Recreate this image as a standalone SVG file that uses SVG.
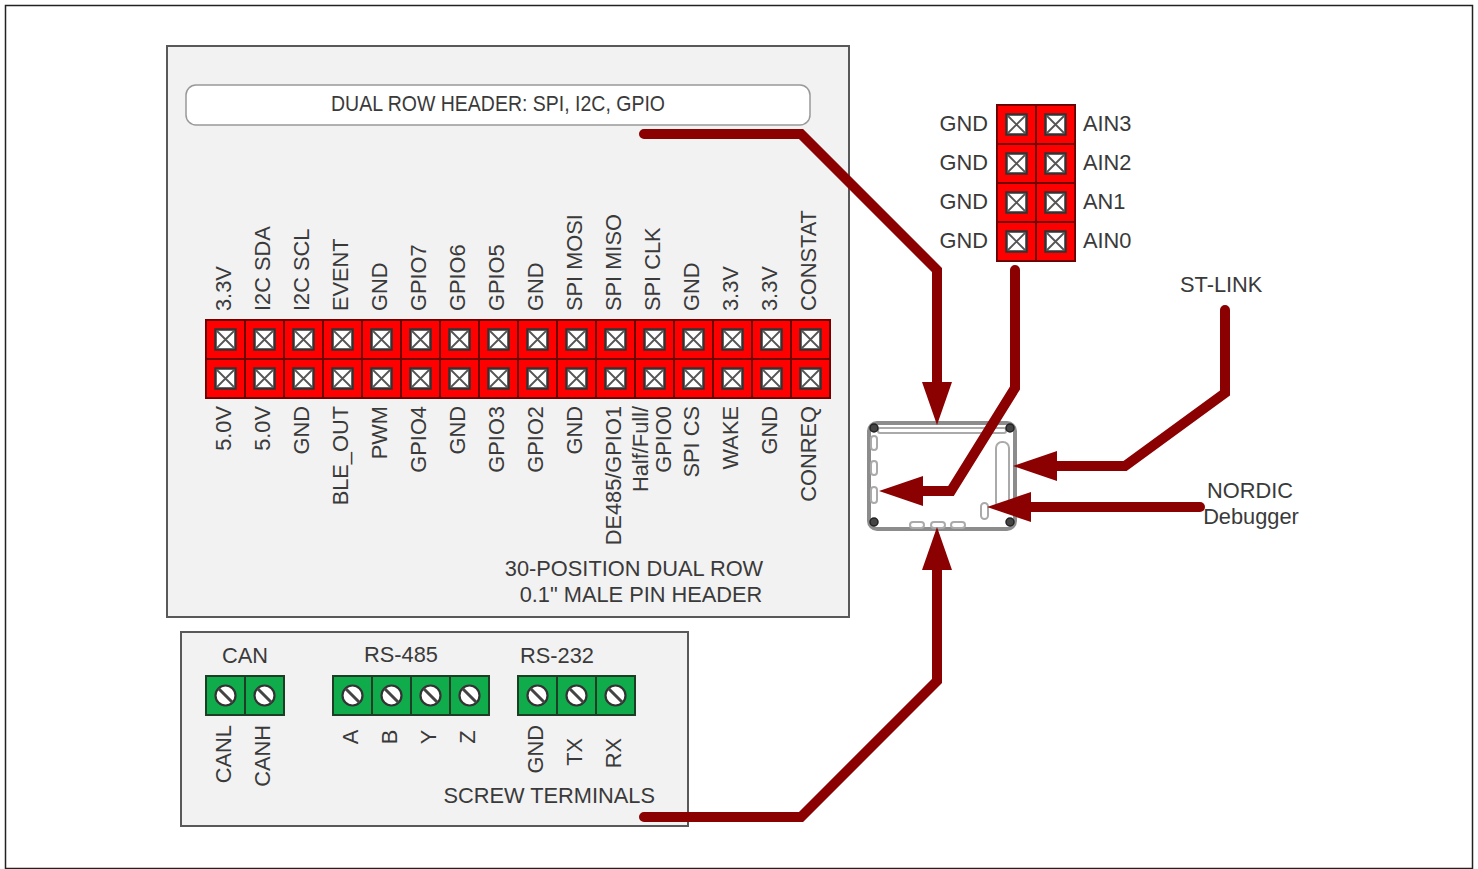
<svg xmlns="http://www.w3.org/2000/svg" width="1478" height="869" viewBox="0 0 1478 869">
<style>
text{font-family:"Liberation Sans",Arial,sans-serif;font-size:21.8px;fill:#3a3a3a;}
.m{text-anchor:middle}.e{text-anchor:end}
.panel{fill:#f2f2f2;stroke:#595959;stroke-width:2}
.wire{fill:none;stroke:#8b0000;stroke-width:10;stroke-linecap:round;stroke-linejoin:miter}
.head{fill:#8b0000}
.cell{fill:#fe0000;stroke:#700000;stroke-width:2}
.gcell{fill:#10ac4c;stroke:#1d3d25;stroke-width:2}
.dev{fill:#fff;stroke:#aaa;stroke-width:2}
</style>
<defs>
<g id="pin">
<rect class="cell" x="-19.500" y="-19.500" width="39" height="39"/>
<rect x="-10" y="-10" width="20" height="20" fill="#fff" stroke="#333" stroke-width="2.500"/>
<path d="M-9-9L9 9M9-9L-9 9" stroke="#555" stroke-width="1.800"/>
</g>
<g id="screw">
<rect class="gcell" x="-19.500" y="-19.500" width="39" height="39"/>
<circle r="10" fill="#fff" stroke="#333" stroke-width="2.200"/>
<path d="M-7-7L7 7" stroke="#444" stroke-width="3"/>
</g>
<circle id="bolt" r="4" fill="#444" stroke="#222" stroke-width="1.500"/>
</defs>
<rect x="5.500" y="5.500" width="1467" height="863" fill="#fff" stroke="#222" stroke-width="1.500"/>

<g id="main-panel">
<rect class="panel" x="167" y="46" width="682" height="571"/>
</g>
<g id="dual-row-title">
<rect x="186" y="85" width="624" height="40" rx="10" fill="#fff" stroke="#999" stroke-width="1.500"/>
<text class="m" x="498" y="111" textLength="334" lengthAdjust="spacingAndGlyphs">DUAL ROW HEADER: SPI, I2C, GPIO</text>
</g>
<g id="pin-header">
<use href="#pin" x="225.500" y="339.500"/><use href="#pin" x="264.500" y="339.500"/><use href="#pin" x="303.500" y="339.500"/><use href="#pin" x="342.500" y="339.500"/><use href="#pin" x="381.500" y="339.500"/><use href="#pin" x="420.500" y="339.500"/><use href="#pin" x="459.500" y="339.500"/><use href="#pin" x="498.500" y="339.500"/><use href="#pin" x="537.500" y="339.500"/><use href="#pin" x="576.500" y="339.500"/><use href="#pin" x="615.500" y="339.500"/><use href="#pin" x="654.500" y="339.500"/><use href="#pin" x="693.500" y="339.500"/><use href="#pin" x="732.500" y="339.500"/><use href="#pin" x="771.500" y="339.500"/><use href="#pin" x="810.500" y="339.500"/>
<use href="#pin" x="225.500" y="378.500"/><use href="#pin" x="264.500" y="378.500"/><use href="#pin" x="303.500" y="378.500"/><use href="#pin" x="342.500" y="378.500"/><use href="#pin" x="381.500" y="378.500"/><use href="#pin" x="420.500" y="378.500"/><use href="#pin" x="459.500" y="378.500"/><use href="#pin" x="498.500" y="378.500"/><use href="#pin" x="537.500" y="378.500"/><use href="#pin" x="576.500" y="378.500"/><use href="#pin" x="615.500" y="378.500"/><use href="#pin" x="654.500" y="378.500"/><use href="#pin" x="693.500" y="378.500"/><use href="#pin" x="732.500" y="378.500"/><use href="#pin" x="771.500" y="378.500"/><use href="#pin" x="810.500" y="378.500"/>
<g id="top-labels">
<text transform="translate(231,311) rotate(-90)">3.3V</text>
<text transform="translate(270,311) rotate(-90)">I2C SDA</text>
<text transform="translate(309,311) rotate(-90)">I2C SCL</text>
<text transform="translate(348,311) rotate(-90)">EVENT</text>
<text transform="translate(387,311) rotate(-90)">GND</text>
<text transform="translate(426,311) rotate(-90)">GPIO7</text>
<text transform="translate(465,311) rotate(-90)">GPIO6</text>
<text transform="translate(504,311) rotate(-90)">GPIO5</text>
<text transform="translate(543,311) rotate(-90)">GND</text>
<text transform="translate(582,311) rotate(-90)">SPI MOSI</text>
<text transform="translate(621,311) rotate(-90)">SPI MISO</text>
<text transform="translate(660,311) rotate(-90)">SPI CLK</text>
<text transform="translate(699,311) rotate(-90)">GND</text>
<text transform="translate(738,311) rotate(-90)">3.3V</text>
<text transform="translate(777,311) rotate(-90)">3.3V</text>
<text transform="translate(816,311) rotate(-90)">CONSTAT</text>
</g>
<g id="bottom-labels">
<text class="e" transform="translate(231,406) rotate(-90)">5.0V</text>
<text class="e" transform="translate(270,406) rotate(-90)">5.0V</text>
<text class="e" transform="translate(309,406) rotate(-90)">GND</text>
<text class="e" transform="translate(348,406) rotate(-90)">BLE_OUT</text>
<text class="e" transform="translate(387,406) rotate(-90)">PWM</text>
<text class="e" transform="translate(426,406) rotate(-90)">GPIO4</text>
<text class="e" transform="translate(465,406) rotate(-90)">GND</text>
<text class="e" transform="translate(504,406) rotate(-90)">GPIO3</text>
<text class="e" transform="translate(543,406) rotate(-90)">GPIO2</text>
<text class="e" transform="translate(582,406) rotate(-90)">GND</text>
<text class="e" transform="translate(621,406) rotate(-90)">DE485/GPIO1</text>
<text class="e" transform="translate(648,406) rotate(-90)">Half/Full/</text>
<text class="e" transform="translate(671,406) rotate(-90)">GPIO0</text>
<text class="e" transform="translate(699,406) rotate(-90)">SPI CS</text>
<text class="e" transform="translate(738,406) rotate(-90)">WAKE</text>
<text class="e" transform="translate(777,406) rotate(-90)">GND</text>
<text class="e" transform="translate(816,406) rotate(-90)">CONREQ</text>
</g>
</g>
<g id="pin-header-caption">
<text class="m" x="634" y="576">30-POSITION DUAL ROW</text>
<text class="m" x="641" y="602">0.1" MALE PIN HEADER</text>
</g>

<g id="screw-panel">
<rect class="panel" x="181" y="632" width="507" height="194"/>
<text class="e" x="655" y="803">SCREW TERMINALS</text>
</g>
<g id="can">
<text class="m" x="245" y="663">CAN</text>
<use href="#screw" x="225.500" y="695.500"/><use href="#screw" x="264.500" y="695.500"/>
<text class="e" transform="translate(231,725) rotate(-90)">CANL</text>
<text class="e" transform="translate(270,725) rotate(-90)">CANH</text>
</g>
<g id="rs485">
<text class="m" x="401" y="662">RS-485</text>
<use href="#screw" x="352.500" y="695.500"/><use href="#screw" x="391.500" y="695.500"/><use href="#screw" x="430.500" y="695.500"/><use href="#screw" x="469.500" y="695.500"/>
<text class="m" transform="translate(358,737) rotate(-90)">A</text>
<text class="m" transform="translate(397,737) rotate(-90)">B</text>
<text class="m" transform="translate(436,737) rotate(-90)">Y</text>
<text class="m" transform="translate(475,737) rotate(-90)">Z</text>
</g>
<g id="rs232">
<text class="m" x="557" y="663">RS-232</text>
<use href="#screw" x="537.500" y="695.500"/><use href="#screw" x="576.500" y="695.500"/><use href="#screw" x="615.500" y="695.500"/>
<text class="e" transform="translate(543,725) rotate(-90)">GND</text>
<text class="e" transform="translate(582,738) rotate(-90)">TX</text>
<text class="e" transform="translate(621,738) rotate(-90)">RX</text>
</g>

<g id="analog-header">
<use href="#pin" x="1016.500" y="124.500"/><use href="#pin" x="1055.500" y="124.500"/>
<use href="#pin" x="1016.500" y="163.500"/><use href="#pin" x="1055.500" y="163.500"/>
<use href="#pin" x="1016.500" y="202.500"/><use href="#pin" x="1055.500" y="202.500"/>
<use href="#pin" x="1016.500" y="241.500"/><use href="#pin" x="1055.500" y="241.500"/>
<text class="e" x="988" y="131">GND</text><text class="e" x="988" y="170">GND</text><text class="e" x="988" y="209">GND</text><text class="e" x="988" y="248">GND</text>
<text x="1083" y="131">AIN3</text><text x="1083" y="170">AIN2</text><text x="1083" y="209">AN1</text><text x="1083" y="248">AIN0</text>
</g>

<g id="device">
<rect x="869" y="423" width="146" height="106" rx="8" fill="#fff" stroke="#8c8c8c" stroke-width="4"/>
<rect x="878" y="428" width="128" height="5" rx="2" class="dev" stroke-width="1.500"/>
<rect x="871" y="436" width="6" height="14" rx="3" class="dev"/>
<rect x="871" y="461" width="6" height="14" rx="3" class="dev"/>
<rect x="871" y="487" width="6" height="16" rx="3" class="dev"/>
<rect x="996" y="442" width="13" height="66" rx="6" class="dev"/>
<rect x="981" y="503" width="7" height="16" rx="3.500" class="dev"/>
<rect x="910" y="522" width="14" height="6" rx="3" class="dev"/>
<rect x="931" y="522" width="14" height="6" rx="3" class="dev"/>
<rect x="951" y="522" width="14" height="6" rx="3" class="dev"/>
<use href="#bolt" x="874" y="428"/><use href="#bolt" x="1010" y="428"/><use href="#bolt" x="874" y="522"/><use href="#bolt" x="1010" y="522"/>
</g>

<g id="st-link-label"><text x="1180" y="292">ST-LINK</text></g>
<g id="nordic-label">
<text class="m" x="1250" y="498">NORDIC</text>
<text class="m" x="1251" y="524">Debugger</text>
</g>

<g id="connectors">
<path class="wire" d="M644 134H801L937 270V390"/>
<polygon class="head" points="922,382 952,382 937,425"/>
<path class="wire" d="M1015 270V388L951 491H915"/>
<polygon class="head" points="923,476 923,506 879,491"/>
<path class="wire" d="M1225 310V393L1125 466H1050"/>
<polygon class="head" points="1057,451 1057,481 1013,466"/>
<path class="wire" d="M1200 507H1025"/>
<polygon class="head" points="1031,492 1031,522 987,507"/>
<path class="wire" d="M644 817H801L937 681V560"/>
<polygon class="head" points="922,570 952,570 937,527"/>
</g>
</svg>
